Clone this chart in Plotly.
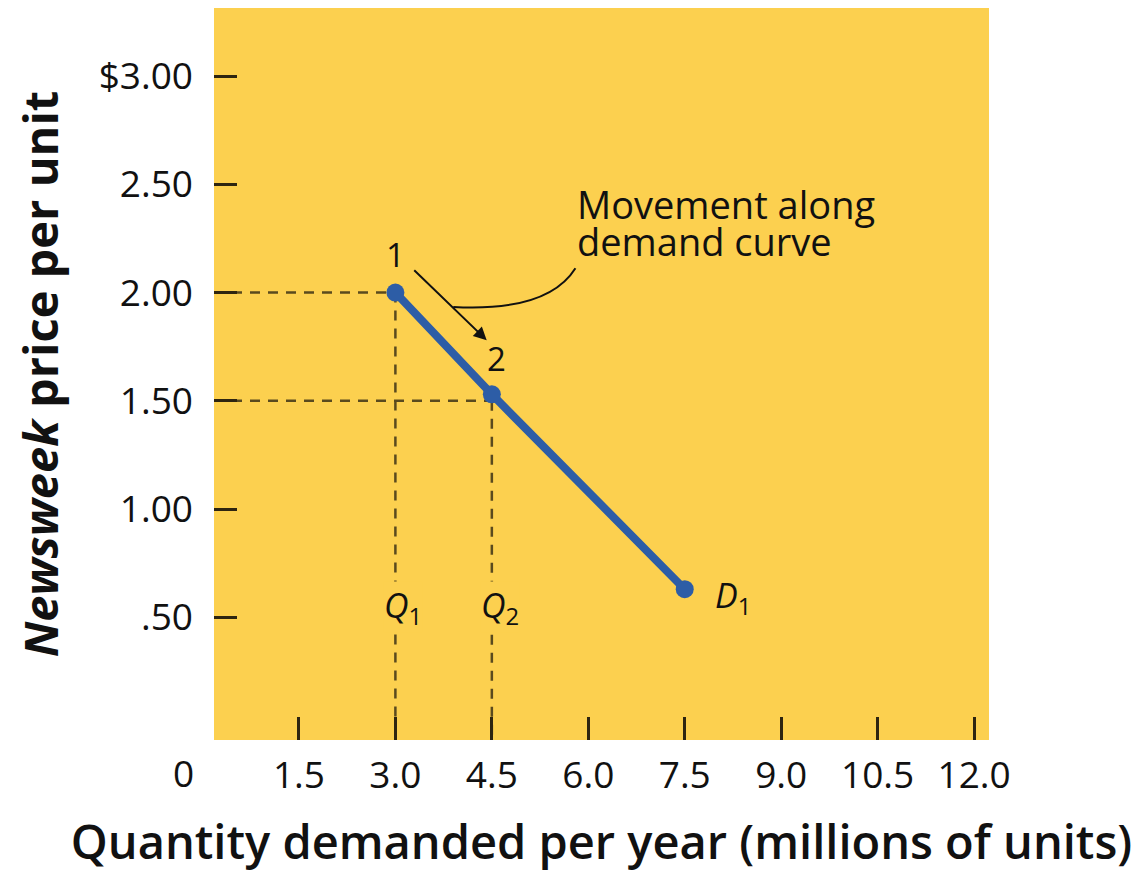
import plotly.graph_objects as go

# --- data ---
quantity = [3.0, 4.5, 7.5]          # millions of units
price = [2.00, 1.53, 0.63]          # $ per unit
ref_quantity = [3.0, 4.5]           # Q1, Q2
ref_price = [2.00, 1.50]
ref_labels = ["<i>Q</i><sub>1</sub>", "<i>Q</i><sub>2</sub>"]
point_labels = ["1", "2"]
callout_lines = ["Movement along", "demand curve"]

x_ticks = [1.5, 3.0, 4.5, 6.0, 7.5, 9.0, 10.5, 12.0]
x_ticktext = ["1.5", "3.0", "4.5", "6.0", "7.5", "9.0", "10.5", "12.0"]
y_ticks = [3.0, 2.5, 2.0, 1.5, 1.0, 0.5]
y_ticktext = ["$3.00", "2.50", "2.00", "1.50", "1.00", ".50"]

X_RANGE = [0.179, 12.232]
Y_RANGE = [-0.0665, 3.3147]

YELLOW = "#FCD04F"
BLUE = "#2D5DA6"
DASH = "#5a4a1e"
INK = "#111111"
FONT = "Open Sans"

fig = go.Figure()

# --- dashed guide lines ---
for q, p in zip(ref_quantity, ref_price):
    fig.add_trace(go.Scatter(x=[X_RANGE[0], q], y=[p, p], mode="lines",
                             line=dict(color=DASH, width=2.5, dash="10px,8px"),
                             hoverinfo="skip", showlegend=False))
    fig.add_trace(go.Scatter(x=[q, q], y=[p, Y_RANGE[0]], mode="lines",
                             line=dict(color=DASH, width=2.5, dash="10px,8px"),
                             hoverinfo="skip", showlegend=False))

# --- demand curve D1 ---
fig.add_trace(go.Scatter(x=quantity, y=price, mode="lines+markers",
                         line=dict(color=BLUE, width=8),
                         marker=dict(color=BLUE, size=18),
                         showlegend=False))

# --- labels ---
for q, lab in zip(ref_quantity, ref_labels):
    fig.add_annotation(x=q, y=0.548, text=lab, showarrow=False, xshift=8,
                       font=dict(family=FONT, size=34, color=INK),
                       bgcolor=YELLOW, borderpad=0)

fig.add_annotation(x=quantity[-1], y=price[-1], text="<i>D</i><sub>1</sub>", showarrow=False,
                   xshift=48, yshift=-8, font=dict(family=FONT, size=34, color=INK))

fig.add_annotation(x=quantity[0], y=price[0], text=point_labels[0], showarrow=False,
                   yshift=38, font=dict(family=FONT, size=33, color=INK))
fig.add_annotation(x=quantity[1], y=price[1], text=point_labels[1], showarrow=False,
                   xshift=5, yshift=36, font=dict(family=FONT, size=33, color=INK))

# arrow 1 -> 2
fig.add_annotation(x=4.42, y=1.78, ax=3.27, ay=2.11, xref="x", yref="y", axref="x", ayref="y",
                   text="", showarrow=True, arrowhead=2, arrowsize=1.3, arrowwidth=2,
                   arrowcolor=INK)

# callout text + curved leader
for line_text, yy in zip(callout_lines, [2.41, 2.238]):
    fig.add_annotation(x=5.79, y=yy, text=line_text, showarrow=False,
                       xanchor="left", align="left",
                       font=dict(family=FONT, size=38, color=INK))
fig.add_shape(type="path", path="M 5.80 2.113 Q 5.37 1.91 3.90 1.934",
              line=dict(color=INK, width=2))

# origin label
fig.add_annotation(x=-0.04, y=0, xref="paper", yref="paper", text="0", showarrow=False,
                   xanchor="center", yanchor="middle", yshift=-32,
                   font=dict(family=FONT, size=37, color=INK))

fig.update_layout(
    width=1138, height=872,
    paper_bgcolor="white", plot_bgcolor=YELLOW,
    margin=dict(l=206, r=157, t=0, b=140),
    font=dict(family=FONT, size=37, color=INK),
)
fig.update_xaxes(range=X_RANGE, tickvals=x_ticks, ticktext=x_ticktext,
                 ticks="inside", ticklen=23, tickwidth=2.5, tickcolor="#2e2510",
                 ticklabelstandoff=10, showgrid=False, zeroline=False, showline=False,
                 title=dict(text="Quantity demanded per year (millions of units)",
                            font=dict(family=FONT, size=47, weight=600), standoff=28))
fig.update_yaxes(range=Y_RANGE, tickvals=y_ticks, ticktext=y_ticktext,
                 ticks="inside", ticklen=23, tickwidth=2.5, tickcolor="#2e2510",
                 ticklabelstandoff=20, showgrid=False, zeroline=False, showline=False,
                 title=dict(text="<i>Newsweek</i> price per unit",
                            font=dict(family=FONT, size=47, weight="bold"), standoff=26))

fig.write_html("out.html")
